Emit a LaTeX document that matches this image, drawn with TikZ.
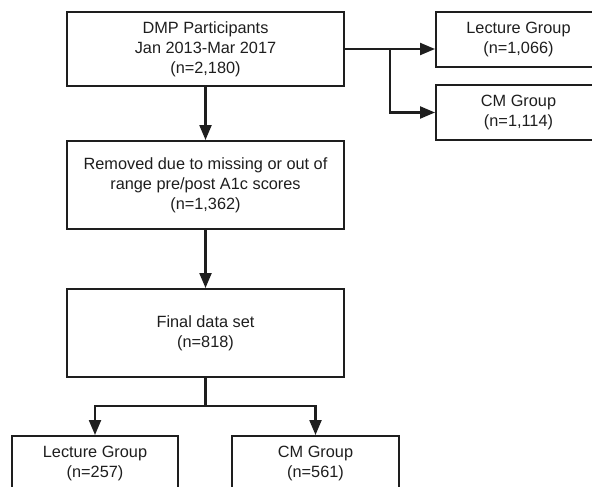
\documentclass[tikz,border=0pt]{standalone}
\usepackage{fontspec}
\setmainfont{Liberation Sans}
\usetikzlibrary{arrows.meta,calc}
\definecolor{ink}{HTML}{1E1E1E}
\tikzset{
  box/.style={draw=ink, line width=2pt, rectangle, inner sep=0pt, align=center,
    text=ink, font=\fontsize{16.3}{20}\selectfont},
  conn/.style={draw=ink, line width=2.2pt},
  arr/.style={conn, -{Triangle[length=15pt,width=12pt]}}
}
\begin{document}
\begin{tikzpicture}[x=1pt,y=-1pt]
\useasboundingbox (0,0) rectangle (592,487);
\node[box, minimum width=277pt, minimum height=74pt] (dmp) at (205.5,49)
  {DMP Participants\\Jan 2013-Mar 2017\\(n=2,180)};
\node[box, minimum width=277pt, minimum height=88pt] (rem) at (205.5,185)
  {Removed due to missing or out of\\range pre/post A1c scores\\(n=1,362)};
\node[box, minimum width=277pt, minimum height=88pt] (fin) at (205.5,333)
  {Final data set\\(n=818)};
\node[box, minimum width=165pt, minimum height=55pt] (lg1) at (518.5,39.5)
  {Lecture Group\\(n=1,066)};
\node[box, minimum width=165pt, minimum height=55pt] (cm1) at (518.5,112.5)
  {CM Group\\(n=1,114)};
\node[box, minimum width=166pt, minimum height=55pt] (lg2) at (95,463.5)
  {Lecture Group\\(n=257)};
\node[box, minimum width=167pt, minimum height=55pt] (cm2) at (315.5,463.5)
  {CM Group\\(n=561)};
\coordinate (br) at (390,49);
\coordinate (jn) at (205.5,406);
\draw[arr] (dmp.east) -- (dmp.east -| lg1.west);
\draw[arr] (br) |- (cm1.west);
\draw[arr] (dmp.south) -- (rem.north);
\draw[arr] (rem.south) -- (fin.north);
\draw[conn] (fin.south) -- (jn);
\draw[arr] (jn) -| (lg2.north);
\draw[arr] (jn) -| (cm2.north);
\end{tikzpicture}
\end{document}
